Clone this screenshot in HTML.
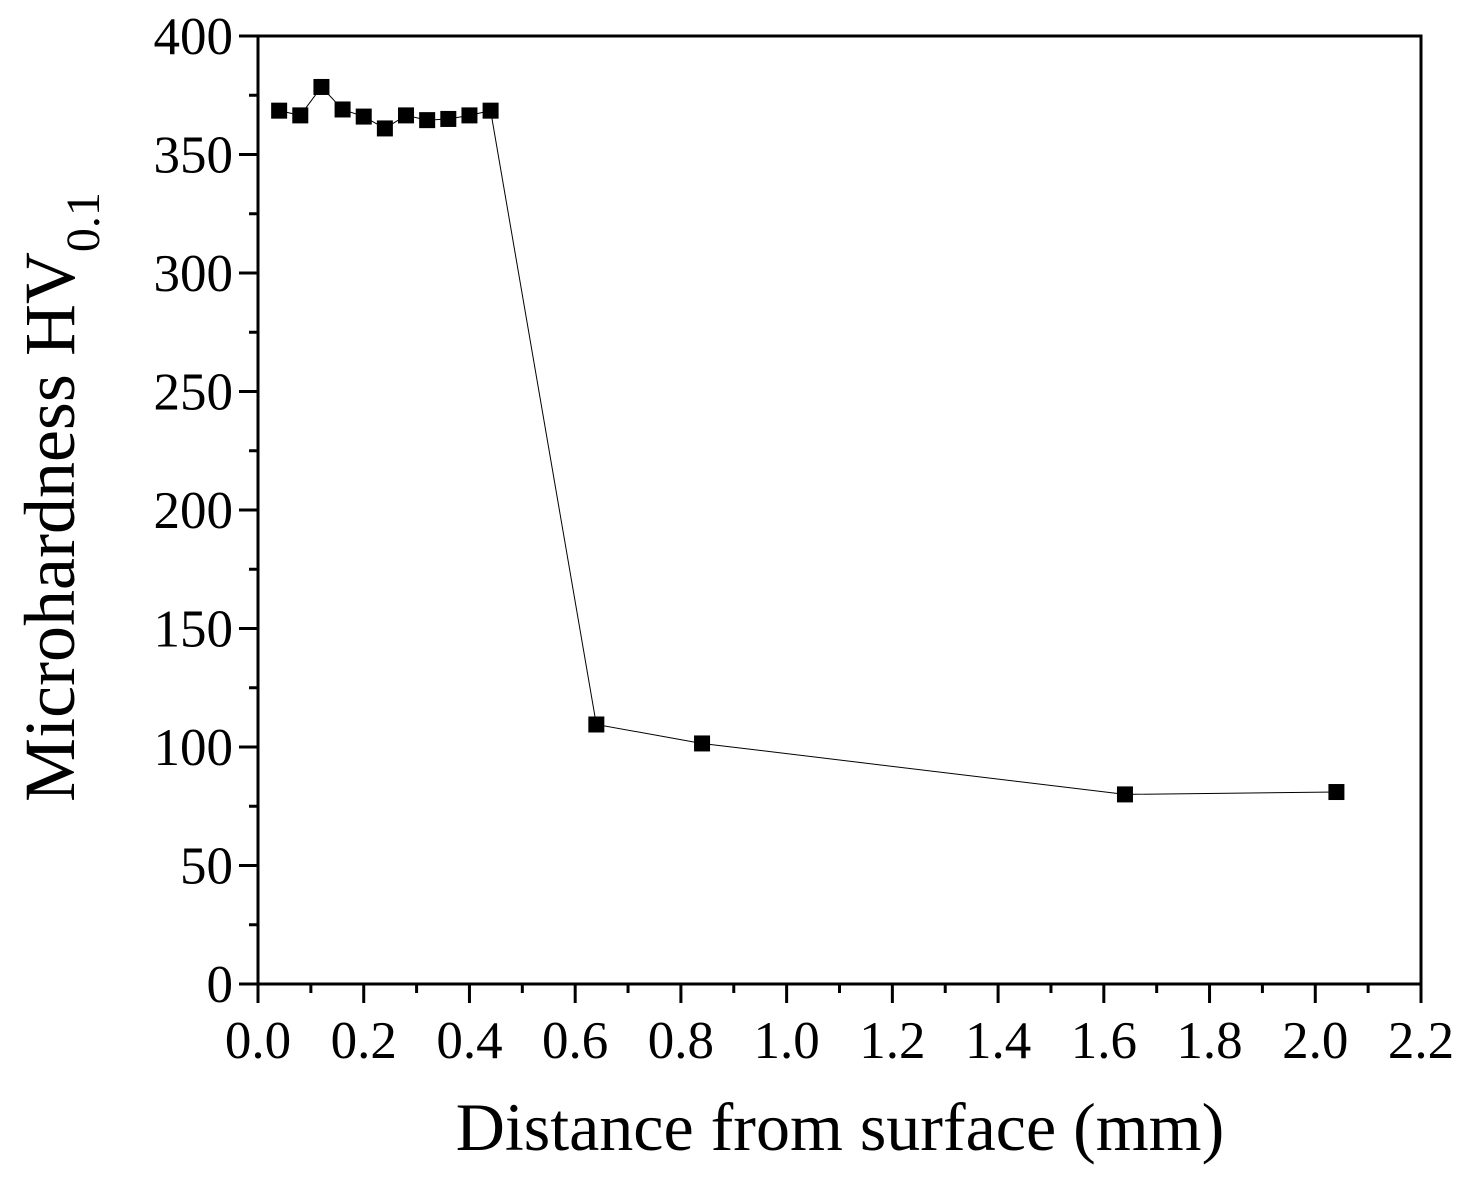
<!DOCTYPE html>
<html><head><meta charset="utf-8"><style>
html,body{margin:0;padding:0;background:#fff;}
svg text{font-family:"Liberation Serif",serif;fill:#000;}
</style></head><body>
<svg id="chart" width="1468" height="1179" viewBox="0 0 1468 1179" xmlns="http://www.w3.org/2000/svg">
<g id="axes"></g>
<g id="series"></g>
<text x="840" y="1150" font-size="68" text-anchor="middle">Distance from surface (mm)</text>
<text transform="translate(74,497) rotate(-90)" font-size="72" text-anchor="middle">Microhardness HV<tspan font-size="48" dy="25">0.1</tspan></text>
</svg>
<script>
const xValues=[0.04,0.08,0.12,0.16,0.20,0.24,0.28,0.32,0.36,0.40,0.44,0.64,0.84,1.64,2.04];
const yValues=[368.5,366.5,378.5,369,366,361,366.5,364.5,365,366.5,368.5,109.5,101.5,80,81];
const xTicks=[0.0,0.2,0.4,0.6,0.8,1.0,1.2,1.4,1.6,1.8,2.0,2.2];
const yTicks=[0,50,100,150,200,250,300,350,400];
const L=258,R=1421,T=36,B=984;
const sx=v=>L+v/2.2*(R-L), sy=v=>B-v/400*(B-T);
const NS='http://www.w3.org/2000/svg';
function mk(tag,attrs,parent){const e=document.createElementNS(NS,tag);for(const k in attrs)e.setAttribute(k,attrs[k]);parent.appendChild(e);return e;}
const ax=document.getElementById('axes'),se=document.getElementById('series');
const frame=mk('rect',{x:L,y:T,width:R-L,height:B-T,fill:'none',stroke:'#000','stroke-width':3},ax);


yTicks.forEach((t,i)=>{
 const y=sy(t);
 const tk=mk('line',{x1:L-19,x2:L,y1:y,y2:y,stroke:'#000','stroke-width':3},ax);
 
 
 if(i<yTicks.length-1){const ym=sy(t+25);const m=mk('line',{x1:L-9,x2:L,y1:ym,y2:ym,stroke:'#000','stroke-width':3},ax);
 
 }
 const lb=mk('text',{x:L-25,y:y+18,'font-size':53,'text-anchor':'end'},ax);lb.textContent=t;
 
 
});
xTicks.forEach((t,i)=>{
 const x=sx(t);
 const tk=mk('line',{x1:x,x2:x,y1:B,y2:B+19,stroke:'#000','stroke-width':3},ax);
 
 
 if(i<xTicks.length-1){const xm=sx(t+0.1);const m=mk('line',{x1:xm,x2:xm,y1:B,y2:B+9,stroke:'#000','stroke-width':3},ax);
 
 }
 const lb=mk('text',{x:x,y:B+74,'font-size':53,'text-anchor':'middle'},ax);lb.textContent=t.toFixed(1);
 
 
});
const pts=xValues.map((x,i)=>sx(x)+','+sy(yValues[i])).join(' ');
const pl=mk('polyline',{points:pts,fill:'none',stroke:'#000','stroke-width':1},se);


xValues.forEach((x,i)=>{
 const r=mk('rect',{x:sx(x)-8,y:sy(yValues[i])-8,width:16,height:16,fill:'#000'},se);
 
 
});
</script>
</body></html>
